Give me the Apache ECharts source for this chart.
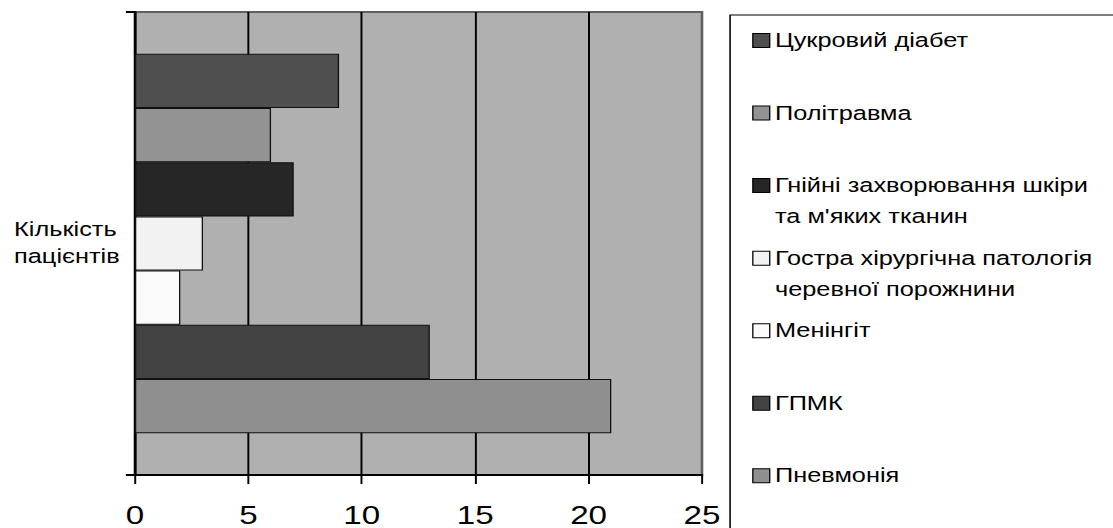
<!DOCTYPE html>
<html>
<head>
<meta charset="utf-8">
<script src="https://cdn.jsdelivr.net/npm/echarts@6/dist/echarts.min.js"></script>
<style>
  html, body { margin: 0; padding: 0; background: #ffffff; overflow: hidden; }
  /* The chart is drawn on a narrower canvas and widened horizontally,
     which gives the wide lettering and thicker vertical rules. */
  #chart { width: 856px; height: 528px; transform: scaleX(1.30023); transform-origin: 0 0; }
</style>
</head>
<body>
<div id="chart"></div>
<script>
// Single category on the vertical axis
const categories = ['Кількість\nпацієнтів'];

// One series per diagnosis (legend order, top to bottom)
const seriesNames = [
  'Цукровий діабет',
  'Політравма',
  'Гнійні захворювання шкіри\nта м\'яких тканин',
  'Гостра хірургічна патологія\nчеревної порожнини',
  'Менінгіт',
  'ГПМК',
  'Пневмонія'
];
const seriesValues = [9, 6, 7, 3, 2, 13, 21];
const seriesColors = ['#4f4f4f', '#939393', '#262626', '#f2f2f2', '#fafafa', '#434343', '#8f8f8f'];

// Value axis tick labels
const xTickLabels = [0, 5, 10, 15, 20, 25];

const FONT = '"Liberation Sans", Arial, sans-serif';
const chart = echarts.init(document.getElementById('chart'), null, { renderer: 'svg' });

const series = seriesNames.map((name, i) => ({
  name: name,
  type: 'bar',
  data: [seriesValues[i]],
  barGap: '0%',
  barCategoryGap: '18%',
  itemStyle: { color: seriesColors[i], borderColor: '#111111', borderWidth: 1 },
  emphasis: { disabled: true }
}));

// One legend block per entry so every entry sits in an evenly spaced slot;
// wrapped entries keep their marker beside the first line.
const LINE_H = 31;
const legends = seriesNames.map((name, i) => {
  const wrapped = name.indexOf('\n') >= 0;
  const center = 40.5 + 72.55 * i;
  return {
    data: [name],
    orient: 'vertical',
    left: 578.5,
    top: center - (wrapped ? LINE_H * 1.5 : LINE_H / 2),
    padding: 0,
    icon: 'rect',
    itemWidth: 13,
    itemHeight: 14,
    selectedMode: false,
    itemStyle: { borderColor: '#000000', borderWidth: 1 },
    formatter: n => (n.indexOf('\n') >= 0 ? '\n' + n : n),
    textStyle: { fontFamily: FONT, fontSize: 19.5, color: '#000000', lineHeight: LINE_H, padding: [0, 0, 0, -1] }
  };
});

chart.setOption({
  animation: false,
  backgroundColor: '#ffffff',
  grid: {
    left: 103.8, right: 316.1, top: 12, bottom: 51,
    show: true,
    backgroundColor: '#b0b0b0',
    borderColor: '#5f5f5f',
    borderWidth: 2
  },
  xAxis: {
    type: 'value',
    min: xTickLabels[0],
    max: xTickLabels[xTickLabels.length - 1],
    interval: xTickLabels[1] - xTickLabels[0],
    axisLine: { show: true, lineStyle: { color: '#000000', width: 2 } },
    axisTick: { show: true, length: 9, lineStyle: { color: '#000000', width: 1.5 } },
    axisLabel: { fontFamily: FONT, fontSize: 25.5, color: '#000000', margin: 27 },
    splitLine: { show: true, showMaxLine: false, lineStyle: { color: '#000000', width: 1.5 } }
  },
  yAxis: {
    type: 'category',
    data: categories,
    axisLine: { show: true, lineStyle: { color: '#000000', width: 2 } },
    axisTick: { show: true, length: 7, lineStyle: { color: '#000000', width: 2 } },
    axisLabel: { fontFamily: FONT, fontSize: 19.5, color: '#000000', lineHeight: 27, align: 'left', margin: 93 }
  },
  legend: legends,
  graphic: [{
    type: 'rect',
    z: -1,
    shape: { x: 561.5, y: 15, width: 500, height: 600 },
    style: { fill: '#ffffff', stroke: '#000000', lineWidth: 1.2 }
  }],
  series: series
});
</script>
</body>
</html>
